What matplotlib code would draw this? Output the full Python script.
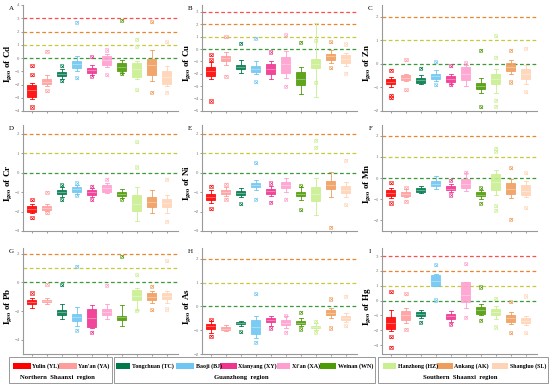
import numpy as np
import matplotlib
matplotlib.use("Agg")
import matplotlib.pyplot as plt
from matplotlib.patches import Rectangle

plt.rcParams['font.family'] = ['Liberation Serif', 'DejaVu Serif']
plt.rcParams['mathtext.fontset'] = 'stix'

# --- data ---
cities = ["Yulin (YL)", "Yan'an (YA)", "Tongchuan (TC)", "Baoji (BJ)", "Xianyang (XY)",
          "Xi'an (XA)", "Weinan (WN)", "Hanzhong (HZ)", "Ankang (AK)", "Shangluo (SL)"]
colors = ["#ff0000", "#ff9c9c", "#00794a", "#6ec6f2", "#f0338f",
          "#ff9fd0", "#4e9a06", "#c9ef90", "#ef9d5c", "#ffd3b5"]
regions = ["Northern  Shaanxi  region", "Guanzhong  region", "Southern  Shaanxi  region"]
elements = ["Cd", "Cu", "Zn", "Cr", "Ni", "Mn", "Pb", "As", "Hg"]
letters = ["A", "B", "C", "D", "E", "F", "G", "H", "I"]

# (whislo, q1, med, q3, whishi) per city
cd_stats = [(-3.06, -2.94, -2.45, -2.01, -1.9), (-2.1, -1.94, -1.78, -1.57, -1.32),
            (-1.57, -1.37, -1.2, -1.02, -0.82), (-0.95, -0.75, -0.48, -0.25, 0.17),
            (-1.27, -1.12, -0.92, -0.75, -0.52), (-0.7, -0.5, -0.15, 0.12, 0.3),
            (-1.1, -0.95, -0.68, -0.37, -0.12), (-1.6, -1.4, -0.85, -0.4, -0.2),
            (-1.72, -1.32, -0.55, -0.07, 0.6), (-2.1, -1.94, -1.45, -0.95, -0.57)]
cd_fliers = [[-1.27, -0.57, -3.7], [0.5, -2.46], [-0.57, -1.72], [2.7, -1.5], [0.1, -1.37],
             [0.6, -1.27], [2.84, -1.2], [1.42, 0.87, -2.4], [2.74, -2.6], [1.24, -2.6]]

cu_stats = [(-2.4, -2.19, -1.8, -1.44, -1.04), (-1.3, -0.93, -0.75, -0.59, -0.24),
            (-1.92, -1.65, -1.45, -1.3, -0.85), (-2.05, -1.87, -1.6, -1.33, -1.0),
            (-2.4, -2.0, -1.6, -1.17, -1.0), (-2.32, -1.97, -1.2, -0.67, -0.19),
            (-3.6, -2.93, -2.4, -1.87, -1.44), (-3.87, -1.52, -1.2, -0.8, 2.13),
            (-1.12, -0.9, -0.6, -0.37, -0.1), (-1.39, -1.12, -0.8, -0.5, -0.32)]
cu_fliers = [[-0.45, -0.85, -4.19], [1.0, -2.2], [0.48], [0.85, -2.64], [-0.24],
             [1.15, -2.99], [0.53], [0.69, -2.67], [0.6, -1.52], [0.4, -1.97]]

zn_stats = [(-0.97, -0.87, -0.77, -0.66, -0.56), (-0.73, -0.67, -0.58, -0.49, -0.41),
            (-0.87, -0.8, -0.7, -0.6, -0.46), (-0.73, -0.63, -0.52, -0.41, -0.28),
            (-0.84, -0.77, -0.65, -0.52, -0.41), (-0.94, -0.7, -0.45, -0.14, -0.03),
            (-1.22, -1.05, -0.93, -0.8, -0.6), (-1.22, -0.87, -0.65, -0.43, -0.21),
            (-0.41, -0.31, -0.13, 0.04, 0.18), (-0.84, -0.66, -0.42, -0.21, -0.06)]
zn_fliers = [[-0.27, -1.33, -1.44], [0.18, -1.1], [-0.18], [0.1, -0.88], [-0.07, -0.88],
             [0.04], [0.57, -1.82], [1.19, 0.29, -1.54, -1.8], [0.57, -0.77], [0.67, -1.19]]

cr_stats = [(-2.1, -2.0, -1.85, -1.69, -1.6), (-1.95, -1.9, -1.8, -1.7, -1.62),
            (-1.26, -1.12, -1.0, -0.88, -0.74), (-1.09, -0.97, -0.86, -0.74, -0.66),
            (-1.26, -1.16, -1.02, -0.88, -0.8), (-1.05, -0.97, -0.8, -0.62, -0.53),
            (-1.28, -1.19, -1.1, -1.02, -0.83), (-2.47, -1.96, -1.6, -1.16, -0.74),
            (-2.1, -1.75, -1.5, -1.26, -0.88), (-2.1, -1.75, -1.55, -1.36, -1.14)]
cr_fliers = [[-1.4, -2.32], [-1.02, -2.05], [-0.62, -1.4], [-0.53, -1.17], [-0.71, -1.4],
             [-0.33], [-1.36], [1.59, 0.29], [], [-0.33, -2.5]]

ni_stats = [(-1.57, -1.4, -1.25, -1.09, -0.88), (-1.22, -1.1, -0.98, -0.88, -0.74),
            (-1.26, -1.14, -1.05, -0.93, -0.79), (-0.88, -0.76, -0.65, -0.53, -0.4),
            (-1.22, -1.1, -0.96, -0.83, -0.71), (-0.97, -0.79, -0.62, -0.48, -0.28),
            (-1.4, -1.22, -1.1, -0.97, -0.74), (-2.2, -1.48, -1.1, -0.74, -0.28),
            (-1.26, -0.83, -0.62, -0.41, 0.03), (-1.26, -1.05, -0.88, -0.71, -0.5)]
ni_fliers = [[-0.71, -1.86], [-0.59, -1.36], [-1.6], [0.5, -1.36], [-0.53, -1.53],
             [-1.36], [-0.67, -1.9], [1.66, 1.31], [-2.8], [0.64, -1.66]]

mn_stats = [(-0.96, -0.84, -0.72, -0.57, -0.45), (-0.91, -0.84, -0.75, -0.65, -0.53),
            (-0.71, -0.65, -0.57, -0.47, -0.4), (-0.53, -0.4, -0.28, -0.14, 0.09),
            (-0.68, -0.57, -0.5, -0.4, -0.29), (-0.6, -0.47, -0.3, -0.06, 0.22),
            (-0.99, -0.87, -0.78, -0.68, -0.57), (-0.78, -0.57, -0.2, 0.17, 0.4),
            (-0.96, -0.76, -0.5, -0.25, -0.06), (-0.91, -0.81, -0.6, -0.34, -0.14)]
mn_fliers = [[-0.22, -1.18], [-0.45, -1.1], [], [], [-0.11, -0.8], [0.28], [-0.45, -1.19],
             [1.41, 1.26, -1.3, -1.53], [0.48, -1.95], [0.25, -1.41]]

pb_stats = [(-1.79, -1.49, -1.35, -1.21, -1.09), (-1.5, -1.4, -1.3, -1.21, -1.12),
            (-2.53, -2.26, -2.1, -1.9, -1.49), (-3.02, -2.72, -2.45, -2.19, -1.72),
            (-3.2, -3.12, -2.5, -1.86, -1.56), (-2.53, -2.26, -2.05, -1.84, -1.49),
            (-3.07, -2.6, -2.45, -2.33, -1.56), (-1.9, -1.26, -0.95, -0.56, -0.4),
            (-1.44, -1.26, -1.0, -0.74, -0.63), (-1.44, -1.16, -0.95, -0.74, -0.63)]
pb_fliers = [[-0.74], [-0.12], [-0.16], [1.12, -3.35], [-3.47], [-0.21], [1.81],
             [0.53, -1.95], [-0.28, -1.9], [1.51, -1.86]]

as_stats = [(-1.12, -0.95, -0.84, -0.73, -0.6), (-1.05, -1.0, -0.94, -0.88, -0.8),
            (-0.84, -0.74, -0.69, -0.64, -0.6), (-1.33, -1.15, -0.85, -0.56, -0.39),
            (-0.81, -0.67, -0.58, -0.49, -0.42), (-0.91, -0.8, -0.68, -0.56, -0.42),
            (-0.84, -0.74, -0.69, -0.63, -0.5), (-0.99, -0.91, -0.86, -0.81, -0.7),
            (-0.49, -0.36, -0.27, -0.17, -0.07), (-0.67, -0.56, -0.47, -0.39, -0.28)]
as_fliers = [[-0.56, -1.26], [], [-1.06], [0.53, -1.5], [-0.91], [-0.39, -1.09],
             [-0.25, -0.95], [-0.63, -1.09], [0.31, -0.91], [0.42, -0.81]]

hg_stats = [(-2.04, -1.89, -1.5, -1.1, -0.66), (-1.49, -1.34, -1.0, -0.72, -0.5),
            (-1.2, -1.05, -0.9, -0.77, -0.61), (0.99, 0.99, 1.35, 1.73, 1.79),
            (-1.43, -1.27, -1.05, -0.88, -0.68), (-0.5, -0.07, 0.4, 1.25, 1.25),
            (-1.0, -0.88, -0.65, -0.46, -0.22), (-1.27, -1.0, -0.78, -0.55, -0.35),
            (-1.6, -1.43, -1.2, -0.99, -0.79), (-1.67, -1.49, -1.35, -1.2, -1.05)]
hg_fliers = [[0.59, -2.43, -3.14], [0.48, -1.93], [-1.45], [2.41, 0.04], [-1.6],
             [2.5, -1.12], [0.92, -1.32], [0.15, -1.78], [-0.07, -2.15], [0.31, -2.15]]

all_stats = [cd_stats, cu_stats, zn_stats, cr_stats, ni_stats, mn_stats, pb_stats, as_stats, hg_stats]
all_fliers = [cd_fliers, cu_fliers, zn_fliers, cr_fliers, ni_fliers, mn_fliers, pb_fliers, as_fliers, hg_fliers]
ylims = [(-4, 4), (-5, 3.55), (-2, 2.5), (-3, 2.45), (-3, 2.45), (-2.5, 2.5), (-5, 2.4), (-2, 2.45), (-3.6, 3.55)]
ytick_step = [1, 1, 1, 1, 1, 1, 2, 1, 1]
ref_levels = [0, 1, 2, 3]
ref_colors = ["#3a9a3a", "#c8c83c", "#e8872e", "#ff4d4d"]

fig = plt.figure(figsize=(5.5, 3.85), dpi=100)

col_left = [23, 202, 382]
row_top = [5, 125, 248]
ax_w, ax_h = 155, 106

for i in range(9):
    r, c = divmod(i, 3)
    x0 = col_left[c] / 550
    y0 = 1 - (row_top[r] + ax_h) / 385
    ax = fig.add_axes([x0, y0, ax_w / 550, ax_h / 385])

    for lv, lc in zip(ref_levels, ref_colors):
        ax.axhline(lv, color=lc, lw=0.9, ls=(0, (3, 2)), zorder=1)

    bstats = []
    for j, s in enumerate(all_stats[i]):
        lo, q1, med, q3, hi = s
        bstats.append(dict(whislo=lo, q1=q1, med=med, q3=q3, whishi=hi,
                           fliers=[], label=""))
    parts = ax.bxp(bstats, positions=np.arange(1, 11), widths=0.6, patch_artist=True,
                   showfliers=False, manage_ticks=False)
    for j in range(10):
        col = colors[j]
        parts['boxes'][j].set(facecolor=col, edgecolor=col, linewidth=0.6, alpha=0.9, zorder=3)
        parts['medians'][j].set(color="white", linewidth=0.4, alpha=0.6, zorder=4)
        for k in (2 * j, 2 * j + 1):
            parts['whiskers'][k].set(color=col, linewidth=0.6, zorder=2)
            parts['caps'][k].set(color=col, linewidth=0.6, zorder=2)
        fl = all_fliers[i][j]
        if fl:
            xs = np.full(len(fl), j + 1)
            ax.scatter(xs, fl, s=5, marker='s', facecolors='none', edgecolors=col,
                       linewidths=0.4, zorder=5)
            ax.scatter(xs, fl, s=5, marker='x', color=col, linewidths=0.4, zorder=5)

    ax.set_xlim(0.4, 10.75)
    ax.set_ylim(*ylims[i])
    ax.set_xticks(np.arange(1, 11))
    ax.set_xticklabels([])
    lo, hi = ylims[i]
    st = ytick_step[i]
    ax.set_yticks(np.arange(np.ceil(lo / st) * st, np.floor(hi) + 1, st))
    ax.tick_params(axis='both', labelsize=3.5, length=1.5, width=0.5, colors="#777777", pad=1)
    for sp in ("top", "right"):
        ax.spines[sp].set_visible(False)
    for sp in ("left", "bottom"):
        ax.spines[sp].set_color("#999999")
        ax.spines[sp].set_linewidth(0.8)
    ax.set_ylabel(r"$\mathbf{I}_{\mathbf{geo}}$ of " + elements[i], fontsize=6.5,
                  fontweight="bold")
    ax.yaxis.set_label_coords(-0.058, 0.45)
    ax.text(-0.075, 0.97, letters[i], transform=ax.transAxes, fontsize=5,
            ha="center", va="center")

# --- legend ---
def fx(px):
    return px / 550

def fy(py):
    return 1 - py / 385

boxes = [(9, 112), (114, 375), (378, 548)]
for (bx0, bx1), reg in zip(boxes, regions):
    fig.patches.append(Rectangle((fx(bx0), fy(383)), fx(bx1 - bx0), 26 / 385,
                                 transform=fig.transFigure, fill=False,
                                 edgecolor="#888888", linewidth=0.6))
    fig.text(fx((bx0 + bx1) / 2 - 3), fy(377), reg, ha="center", va="center",
             fontsize=4.8, fontweight="bold")

patch_x = [13, 59, 116, 176, 220, 277, 320, 383, 437, 492]
patch_w = [18, 18, 14, 18, 17, 13, 16, 13, 16, 16]
for j in range(10):
    fig.patches.append(Rectangle((fx(patch_x[j]), fy(369)), fx(patch_w[j]), 6 / 385,
                                 transform=fig.transFigure, facecolor=colors[j],
                                 edgecolor="none"))
    fig.text(fx(patch_x[j] + patch_w[j] + 1.5), fy(366), cities[j], ha="left",
             va="center", fontsize=4.3, fontweight="bold")

fig.savefig("out.png", dpi=100)
